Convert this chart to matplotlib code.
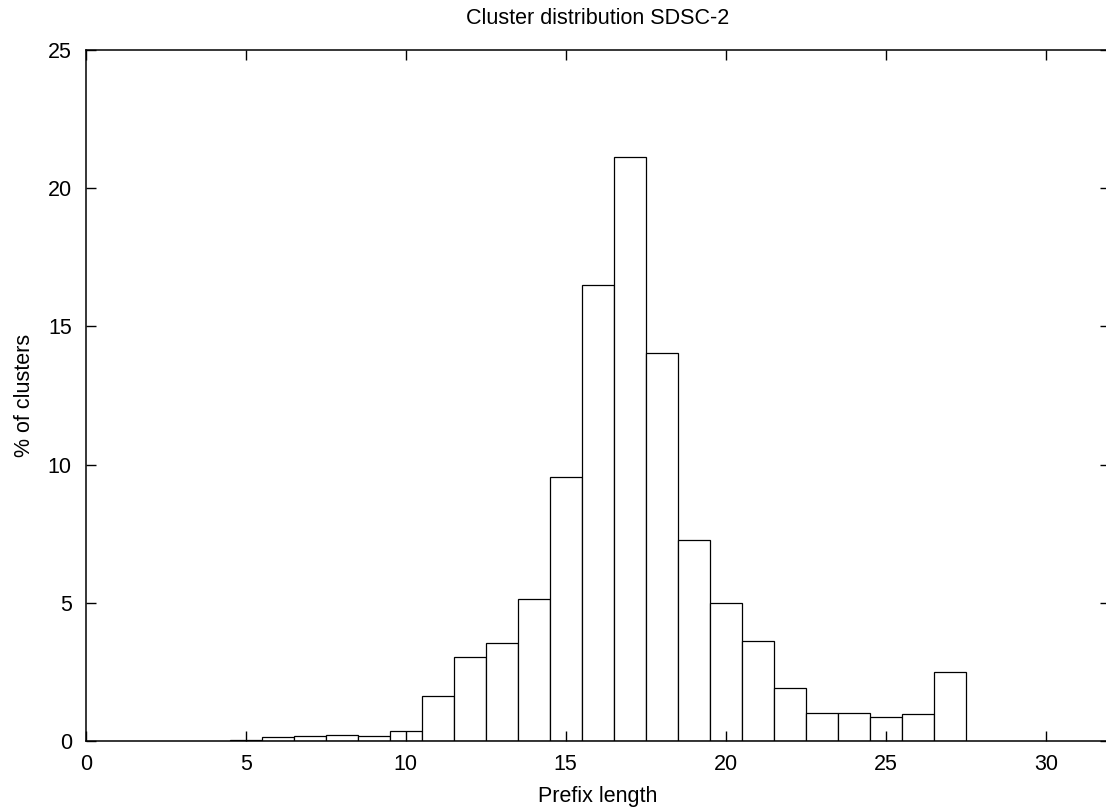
import matplotlib
matplotlib.use("Agg")
import matplotlib.pyplot as plt

plt.rcParams['font.family'] = ['Liberation Sans', 'DejaVu Sans']

# Prefix length vs % of clusters
prefix_len = [5, 6, 7, 8, 9, 10, 11, 12, 13, 14, 15, 16, 17, 18, 19, 20,
              21, 22, 23, 24, 25, 26, 27]
pct_clusters = [0.04, 0.13, 0.19, 0.23, 0.19, 0.37, 1.62, 3.05, 3.53, 5.13,
                9.56, 16.51, 21.12, 14.05, 7.27, 5.00, 3.63, 1.93, 1.01,
                1.01, 0.88, 0.98, 2.50]

x_ticks = [0, 5, 10, 15, 20, 25, 30]
y_ticks = [0, 5, 10, 15, 20, 25]

fig = plt.figure(figsize=(11.06, 8.11), dpi=100)
ax = fig.add_axes([0.0775, 0.0863, 0.9259, 0.852])

ax.bar(prefix_len, pct_clusters, width=1.0, color="white",
       edgecolor="black", linewidth=0.9)

ax.set_xlim(0, 32)
ax.set_ylim(0, 25)
ax.set_xticks(x_ticks)
ax.set_yticks(y_ticks)
ax.tick_params(axis="both", direction="in", length=7, width=1.0,
               top=True, right=True, labelsize=15.5)
ax.tick_params(axis="x", pad=9)
ax.tick_params(axis="y", pad=10)

for s in ax.spines.values():
    s.set_linewidth(1.1)

ax.set_title("Cluster distribution SDSC-2", fontsize=15.5, pad=19)
ax.set_xlabel("Prefix length", fontsize=15.5, labelpad=8)
ax.set_ylabel("% of clusters", fontsize=15.5, labelpad=9)

fig.savefig("out.png", dpi=100)
